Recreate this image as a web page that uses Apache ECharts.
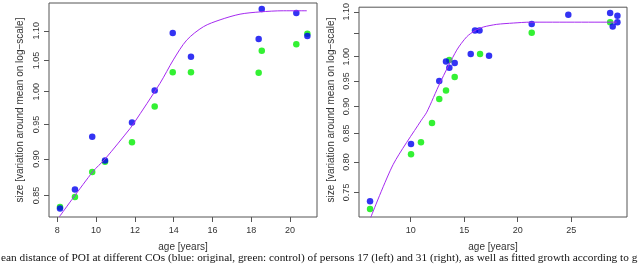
<!DOCTYPE html>
<html>
<head>
<meta charset="utf-8">
<script src="https://cdn.jsdelivr.net/npm/echarts@6/dist/echarts.min.js"></script>
<style>html,body{margin:0;padding:0;background:#fff;}#c{width:640px;height:267px;}</style>
</head>
<body>
<div id="c"></div>
<script>
// ---- Data (person 17, left panel) ----
const leftAges = [8.14, 8.91, 9.80, 10.46, 11.85, 13.02, 13.95, 14.89, 18.38, 18.54, 20.32, 20.89];
const leftOriginal = [0.833, 0.858, 0.932, 0.898, 0.953, 1.002, 1.096, 1.056, 1.086, 1.138, 1.131, 1.091];
const leftControl = [0.835, 0.848, 0.882, 0.896, 0.924, 0.977, 1.031, 1.031, 1.030, 1.066, 1.077, 1.095];
const leftFitAges = [8.10, 9.82, 10.46, 11.75, 11.95, 13.29, 13.98, 14.67, 15.53, 16.39, 17.42, 18.45, 19.65, 20.86];
const leftFit = [0.822, 0.882, 0.900, 0.944, 0.952, 1.013, 1.051, 1.084, 1.107, 1.119, 1.129, 1.133, 1.135, 1.135];
const leftXTicks = [8, 10, 12, 14, 16, 18, 20];
const leftYTicks = [0.85, 0.90, 0.95, 1.00, 1.05, 1.10];
const leftYLabels = [0.85, 0.90, 0.95, 1.00, 1.05, 1.10];

// ---- Data (person 31, right panel) ----
const rightAgesOriginal = [6.20, 10.03, 12.67, 13.30, 13.61, 14.11, 15.61, 16.01, 16.43, 17.32, 21.31, 24.73, 28.64, 29.32, 28.88, 29.32];
const rightOriginal = [0.736, 0.831, 0.950, 0.990, 0.977, 0.987, 1.006, 1.057, 1.057, 1.002, 1.072, 1.093, 1.097, 1.091, 1.066, 1.076];
const rightAgesControl = [6.20, 10.03, 10.96, 11.99, 12.67, 13.30, 13.61, 14.11, 16.48, 21.31, 28.64];
const rightControl = [0.724, 0.813, 0.834, 0.869, 0.914, 0.931, 0.993, 0.958, 1.006, 1.052, 1.076];
const rightFitAges = [6.26, 8.37, 10.96, 11.50, 12.74, 14.30, 15.23, 16.01, 16.79, 18.04, 19.59, 21.15, 29.25];
const rightFit = [0.711, 0.796, 0.873, 0.889, 0.946, 1.014, 1.043, 1.057, 1.065, 1.071, 1.074, 1.076, 1.076];
const rightXTicks = [10, 15, 20, 25];
const rightYTicks = [0.75, 0.80, 0.85, 0.90, 0.95, 1.00, 1.05, 1.10];
const rightYLabels = [0.75, 0.80, 0.85, 0.90, 0.95, 1.00, 1.10];

const xTitle = 'age [years]';
const yTitle = 'size [variation around mean on log\u2212scale]';
const caption = 'ean distance of POI at different COs (blue: original, green: control) of persons 17 (left) and 31 (right), as well as fitted growth according to g';

const BLUE = '#0000F0', GREEN = '#00EE00', PURPLE = '#A52AF0', FRAME = '#555', TXT = '#333';
const SANS = '"Liberation Sans", Arial, sans-serif';
const SERIF = '"Liberation Serif", "Times New Roman", serif';

const pairs = (xs, ys) => xs.map((x, i) => [x, Math.log(ys[i])]);

// caption font size so it spans the width
const cv = document.createElement('canvas').getContext('2d');
cv.font = '100px ' + SERIF;
const capSize = 637 / cv.measureText(caption).width * 100;

function xAxis(idx, min, max, ticks) {
  return {
    type: 'value', gridIndex: idx, min: min, max: max, position: 'bottom',
    axisLine: { show: false, onZero: false },
    splitLine: { show: false },
    axisTick: { show: true, length: 5, inside: false, customValues: ticks, lineStyle: { color: FRAME, width: 1 } },
    axisLabel: { customValues: ticks, color: TXT, fontFamily: SANS, fontSize: 9, margin: 9 }
  };
}
function yAxis(idx, min, max, ticks, labels) {
  return {
    type: 'value', gridIndex: idx, min: min, max: max, position: 'left',
    axisLine: { show: false, onZero: false },
    splitLine: { show: false },
    axisTick: { show: true, length: 5, inside: false, customValues: ticks.map(Math.log), lineStyle: { color: FRAME, width: 1 } },
    axisLabel: {
      customValues: labels.map(Math.log), rotate: 90, color: TXT, fontFamily: SANS, fontSize: 9, margin: 8,
      formatter: v => Math.exp(v).toFixed(2)
    }
  };
}
function pts(name, xi, yi, data, color, z) {
  return { name: name, type: 'scatter', xAxisIndex: xi, yAxisIndex: yi, data: data,
    symbol: 'circle', symbolSize: 6.5, itemStyle: { color: color }, z: z, silent: true, animation: false };
}
function fit(xi, yi, data, sm) {
  return { type: 'line', xAxisIndex: xi, yAxisIndex: yi, data: data, showSymbol: false, smooth: sm,
    lineStyle: { color: PURPLE, width: 1 }, z: 5, silent: true, animation: false, clip: true };
}

const chart = echarts.init(document.getElementById('c'), null, { renderer: 'canvas' });
chart.setOption({
  animation: false,
  backgroundColor: '#fff',
  grid: [
    { left: 49, top: 3, width: 268, height: 214, show: true, borderColor: FRAME, borderWidth: 1, backgroundColor: 'transparent' },
    { left: 359, top: 3, width: 268, height: 214, show: true, borderColor: FRAME, borderWidth: 1, backgroundColor: 'transparent' }
  ],
  xAxis: [xAxis(0, 7.572, 21.387, leftXTicks), xAxis(1, 5.168, 30.215, rightXTicks)],
  yAxis: [yAxis(0, -0.1961, 0.1388, leftYTicks, leftYLabels), yAxis(1, -0.3399, 0.105, rightYTicks, rightYLabels)],
  series: [
    pts('control', 0, 0, pairs(leftAges, leftControl), GREEN, 2),
    pts('original', 0, 0, pairs(leftAges, leftOriginal), BLUE, 3),
    fit(0, 0, pairs(leftFitAges, leftFit), 0.3),
    pts('control', 1, 1, pairs(rightAgesControl, rightControl), GREEN, 2),
    pts('original', 1, 1, pairs(rightAgesOriginal, rightOriginal), BLUE, 3),
    fit(1, 1, pairs(rightFitAges, rightFit), 0.25)
  ],
  graphic: [
    { type: 'text', x: 183, y: 247, style: { text: xTitle, fill: TXT, font: '10px ' + SANS, textAlign: 'center', textVerticalAlign: 'middle' } },
    { type: 'text', x: 493, y: 247, style: { text: xTitle, fill: TXT, font: '10px ' + SANS, textAlign: 'center', textVerticalAlign: 'middle' } },
    { type: 'text', x: 20, y: 110, rotation: Math.PI / 2, style: { text: yTitle, fill: TXT, font: '10px ' + SANS, textAlign: 'center', textVerticalAlign: 'middle' } },
    { type: 'text', x: 331, y: 110, rotation: Math.PI / 2, style: { text: yTitle, fill: TXT, font: '10px ' + SANS, textAlign: 'center', textVerticalAlign: 'middle' } },
    { type: 'text', x: 1, y: 258, style: { text: caption, fill: '#111', font: capSize.toFixed(2) + 'px ' + SERIF, textAlign: 'left', textVerticalAlign: 'middle' } }
  ]
});
</script>
</body>
</html>
